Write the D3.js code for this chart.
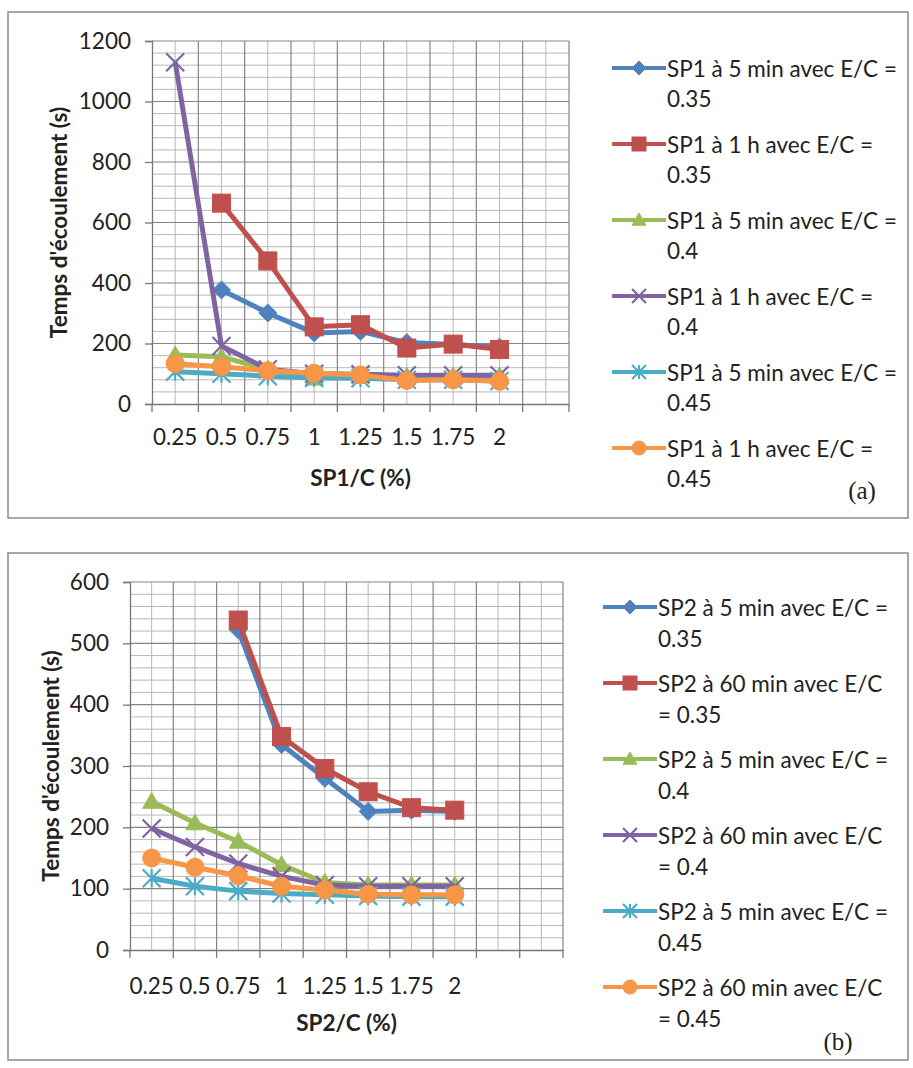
<!DOCTYPE html>
<html>
<head>
<meta charset="utf-8">
<script src="https://cdn.jsdelivr.net/npm/d3@7"></script>
<style>
  html, body { margin: 0; padding: 0; background: #fff; }
  svg { display: block; }
  .tick-label { font-family: Lato, "Open Sans", sans-serif; font-size: 22.5px; fill: #222; }
  .axis-title { font-family: Lato, "Open Sans", sans-serif; font-size: 22.5px; font-weight: bold; fill: #222; }
  .legend-text { font-family: Lato, "Open Sans", sans-serif; font-size: 22.5px; fill: #222; }
  .panel-tag { font-family: "Liberation Serif", "DejaVu Serif", serif; font-size: 25px; fill: #222; }
</style>
</head>
<body>
<svg id="chart" width="913" height="1068"></svg>
<script>
// ---- data: flow time (s) versus superplasticizer dosage ----
const dosageLabels = ["0.25", "0.5", "0.75", "1", "1.25", "1.5", "1.75", "2"];

// Panel (a): SP1
const sp1Names = [
  ["SP1 à 5 min avec E/C =", "0.35"],
  ["SP1 à 1 h avec E/C =", "0.35"],
  ["SP1 à 5 min avec E/C =", "0.4"],
  ["SP1 à 1 h avec E/C =", "0.4"],
  ["SP1 à 5 min avec E/C =", "0.45"],
  ["SP1 à 1 h avec E/C =", "0.45"]
];
const sp1_5min_035 = [null, 377, 301, 235, 240, 203, 197, 188];
const sp1_1h_035   = [null, 664, 473, 255, 262, 185, 198, 180];
const sp1_5min_04  = [162, 156, 115, 85, 95, 92, 92, 92];
const sp1_1h_04    = [1130, 192, 115, 100, 98, 95, 95, 95];
const sp1_5min_045 = [107, 100, 92, 86, 85, 80, 80, 76];
const sp1_1h_045   = [133, 123, 110, 102, 96, 78, 80, 75];
const sp1Ticks = [0, 200, 400, 600, 800, 1000, 1200];

// Panel (b): SP2
const sp2Names = [
  ["SP2 à 5 min avec E/C =", "0.35"],
  ["SP2 à 60 min avec E/C", "= 0.35"],
  ["SP2 à 5 min avec E/C =", "0.4"],
  ["SP2 à 60 min avec E/C", "= 0.4"],
  ["SP2 à 5 min avec E/C =", "0.45"],
  ["SP2 à 60 min avec E/C", "= 0.45"]
];
const sp2_5min_035 = [null, null, 522, 335, 280, 226, 228, 226];
const sp2_60min_035 = [null, null, 538, 348, 296, 258, 232, 228];
const sp2_5min_04  = [242, 207, 177, 139, 110, 106, 106, 106];
const sp2_60min_04 = [198, 168, 141, 120, 106, 104, 104, 104];
const sp2_5min_045 = [117, 104, 96, 92, 90, 88, 87, 87];
const sp2_60min_045 = [150, 135, 121, 104, 98, 91, 90, 90];
const sp2Ticks = [0, 100, 200, 300, 400, 500, 600];

// Series styling (Office palette) and marker kinds
const seriesColors = ["#4F81BD", "#C0504D", "#9BBB59", "#8064A2", "#4BACC6", "#F79646"];
const markerKinds = ["diamond", "square", "triangle", "x", "asterisk", "circle"];

const svg = d3.select("#chart");

function drawMarker(g, kind, color, cx, cy, s) {
  // s = nominal marker size in px
  const h = s / 2;
  if (kind === "diamond") {
    g.append("path").attr("d", `M${cx},${cy - h}L${cx + h},${cy}L${cx},${cy + h}L${cx - h},${cy}Z`)
      .attr("fill", color).attr("stroke", color).attr("stroke-width", 1);
  } else if (kind === "square") {
    g.append("rect").attr("x", cx - h).attr("y", cy - h).attr("width", s).attr("height", s)
      .attr("fill", color).attr("stroke", color).attr("stroke-width", 1);
  } else if (kind === "triangle") {
    g.append("path").attr("d", `M${cx},${cy - h}L${cx + h},${cy + h * 0.75}L${cx - h},${cy + h * 0.75}Z`)
      .attr("fill", color).attr("stroke", color).attr("stroke-width", 1);
  } else if (kind === "circle") {
    g.append("circle").attr("cx", cx).attr("cy", cy).attr("r", h)
      .attr("fill", color).attr("stroke", color).attr("stroke-width", 1);
  } else if (kind === "x") {
    g.append("path").attr("d", `M${cx - h},${cy - h}L${cx + h},${cy + h}M${cx - h},${cy + h}L${cx + h},${cy - h}`)
      .attr("stroke", color).attr("stroke-width", 2.2).attr("fill", "none");
  } else if (kind === "asterisk") {
    g.append("path").attr("d",
      `M${cx - h},${cy - h}L${cx + h},${cy + h}M${cx - h},${cy + h}L${cx + h},${cy - h}M${cx},${cy - h}L${cx},${cy + h}`)
      .attr("stroke", color).attr("stroke-width", 2.2).attr("fill", "none");
  }
}

function drawPanel(cfg) {
  const { frame, plot, slots, yMax, yTicks, minorStep, series, names, xTitle, tag } = cfg;
  const g = svg.append("g");

  // outer frame of the figure panel
  g.append("rect").attr("x", frame.x).attr("y", frame.y).attr("width", frame.w).attr("height", frame.h)
    .attr("fill", "#fff").attr("stroke", "#8a8a8a").attr("stroke-width", 1.5);

  const x = d3.scaleBand().domain(d3.range(slots)).range([plot.left, plot.right]).paddingInner(0).paddingOuter(0);
  const y = d3.scaleLinear().domain([0, yMax]).range([plot.bottom, plot.top]);
  const bw = x.bandwidth();

  // horizontal gridlines: minor then major
  const minorVals = d3.range(0, yMax + 0.001, minorStep).filter(v => !yTicks.includes(v));
  g.append("g").selectAll("line").data(minorVals).join("line")
    .attr("x1", plot.left).attr("x2", plot.right)
    .attr("y1", d => y(d)).attr("y2", d => y(d))
    .attr("stroke", "#b8b8b8").attr("stroke-width", 1);
  // vertical gridlines at category centres (minor) and boundaries (major)
  g.append("g").selectAll("line").data(d3.range(slots)).join("line")
    .attr("x1", d => x(d) + bw / 2).attr("x2", d => x(d) + bw / 2)
    .attr("y1", plot.top).attr("y2", plot.bottom)
    .attr("stroke", "#b8b8b8").attr("stroke-width", 1);
  g.append("g").selectAll("line").data(d3.range(1, slots + 1)).join("line")
    .attr("x1", d => plot.left + d * bw).attr("x2", d => plot.left + d * bw)
    .attr("y1", plot.top).attr("y2", plot.bottom)
    .attr("stroke", "#858585").attr("stroke-width", 1.2);
  g.append("g").selectAll("line").data(yTicks.filter(v => v > 0)).join("line")
    .attr("x1", plot.left).attr("x2", plot.right)
    .attr("y1", d => y(d)).attr("y2", d => y(d))
    .attr("stroke", "#858585").attr("stroke-width", 1.2);

  // y axis
  const yAxis = d3.axisLeft(y).tickValues(yTicks).tickSize(7).tickPadding(14).tickFormat(d3.format("d"));
  const ya = g.append("g").attr("transform", `translate(${plot.left},0)`).call(yAxis);
  ya.select(".domain").attr("stroke", "#777").attr("stroke-width", 1.3);
  ya.selectAll(".tick line").attr("stroke", "#777").attr("stroke-width", 1.3);
  ya.selectAll(".tick text").attr("class", "tick-label").attr("font-family", null).attr("font-size", null);

  // x axis: labels centred in categories, tick marks at boundaries
  const xAxis = d3.axisBottom(x).tickSize(0).tickPadding(cfg.xPad).tickFormat(i => dosageLabels[i] || "");
  const xa = g.append("g").attr("transform", `translate(0,${plot.bottom})`).call(xAxis);
  xa.select(".domain").attr("stroke", "#777").attr("stroke-width", 1.3);
  xa.selectAll(".tick text").attr("class", "tick-label").attr("font-family", null).attr("font-size", null);
  g.append("g").selectAll("line").data(d3.range(0, slots + 1)).join("line")
    .attr("x1", d => plot.left + d * bw).attr("x2", d => plot.left + d * bw)
    .attr("y1", plot.bottom).attr("y2", plot.bottom + 8)
    .attr("stroke", "#777").attr("stroke-width", 1.3);

  // axis titles
  g.append("text").attr("class", "axis-title")
    .attr("x", (plot.left + plot.right) / 2).attr("y", cfg.xTitleY)
    .attr("text-anchor", "middle").text(xTitle);
  g.append("text").attr("class", "axis-title")
    .attr("transform", `translate(${cfg.yTitleX},${(plot.top + plot.bottom) / 2}) rotate(-90)`)
    .attr("text-anchor", "middle").attr("dominant-baseline", "central")
    .text("Temps d'écoulement (s)");

  // series lines and markers
  const line = d3.line().defined(d => d.v !== null)
    .x(d => x(d.i) + bw / 2).y(d => y(d.v));
  series.forEach((vals, k) => {
    const pts = vals.map((v, i) => ({ i, v }));
    g.append("path").datum(pts).attr("d", line)
      .attr("fill", "none").attr("stroke", seriesColors[k]).attr("stroke-width", 5)
      .attr("stroke-linejoin", "round");
    const mg = g.append("g");
    pts.filter(p => p.v !== null).forEach(p =>
      drawMarker(mg, markerKinds[k], seriesColors[k], x(p.i) + bw / 2, y(p.v), 18));
  });

  // legend
  const lg = g.append("g");
  names.forEach((nm, k) => {
    const cy = cfg.legend.y0 + k * cfg.legend.step;
    lg.append("line").attr("x1", cfg.legend.x0).attr("x2", cfg.legend.x0 + 54)
      .attr("y1", cy).attr("y2", cy).attr("stroke", seriesColors[k]).attr("stroke-width", 4);
    drawMarker(lg, markerKinds[k], seriesColors[k], cfg.legend.x0 + 27, cy, 14);
    lg.append("text").attr("class", "legend-text")
      .attr("x", cfg.legend.x0 + 55).attr("y", cy).attr("dominant-baseline", "central").text(nm[0]);
    lg.append("text").attr("class", "legend-text")
      .attr("x", cfg.legend.x0 + 55).attr("y", cy + cfg.legend.lineGap).attr("dominant-baseline", "central").text(nm[1]);
  });

  g.append("text").attr("class", "panel-tag")
    .attr("x", tag.x).attr("y", tag.y).attr("text-anchor", "middle").attr("dominant-baseline", "central")
    .text(tag.text);
}

drawPanel({
  frame: { x: 8, y: 12, w: 900, h: 506 },
  plot: { left: 152, top: 41, right: 569, bottom: 404 },
  slots: 9, yMax: 1200, yTicks: sp1Ticks, minorStep: 40, xPad: 25,
  series: [sp1_5min_035, sp1_1h_035, sp1_5min_04, sp1_1h_04, sp1_5min_045, sp1_1h_045],
  names: sp1Names, xTitle: "SP1/C (%)", xTitleY: 486, yTitleX: 58,
  legend: { x0: 612, y0: 68, step: 76, lineGap: 30 },
  tag: { text: "(a)", x: 862, y: 490 }
});

drawPanel({
  frame: { x: 8, y: 553, w: 900, h: 507 },
  plot: { left: 130, top: 582, right: 563, bottom: 950 },
  slots: 10, yMax: 600, yTicks: sp2Ticks, minorStep: 20, xPad: 28,
  series: [sp2_5min_035, sp2_60min_035, sp2_5min_04, sp2_60min_04, sp2_5min_045, sp2_60min_045],
  names: sp2Names, xTitle: "SP2/C (%)", xTitleY: 1031, yTitleX: 50,
  legend: { x0: 603, y0: 607, step: 76, lineGap: 31 },
  tag: { text: "(b)", x: 838, y: 1041 }
});
</script>
</body>
</html>
